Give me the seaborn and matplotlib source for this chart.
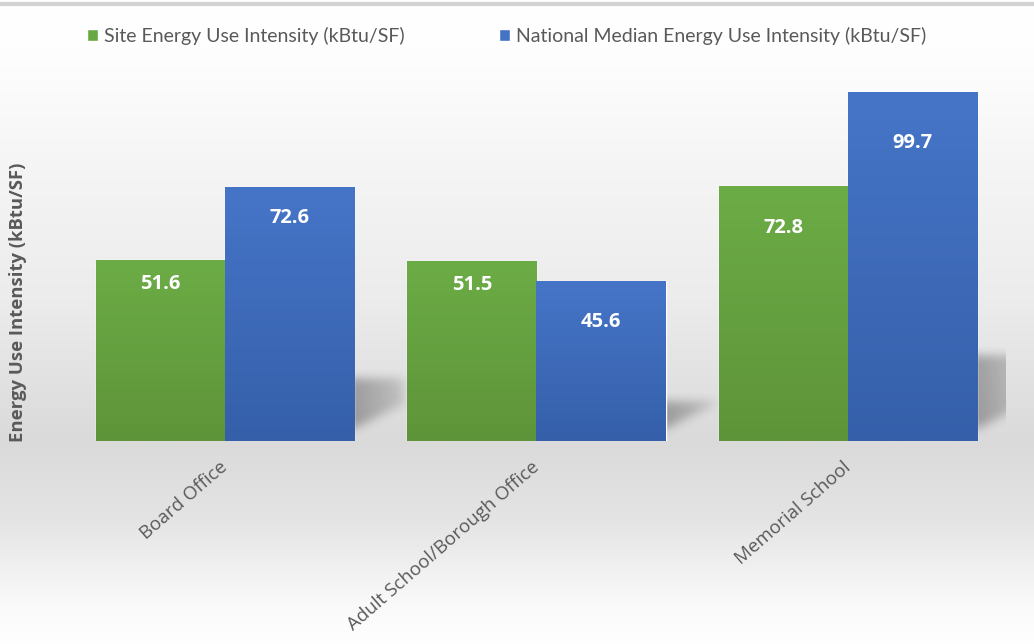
import numpy as np
import pandas as pd
import matplotlib
matplotlib.use("Agg")
import matplotlib.pyplot as plt
import seaborn as sns
from matplotlib.patches import Patch
from matplotlib.colors import to_rgb

# ---- data ----
categories = ["Board Office", "Adult School/Borough Office", "Memorial School"]
series_names = ["Site Energy Use Intensity (kBtu/SF)",
                "National Median Energy Use Intensity (kBtu/SF)"]
site_eui = [51.6, 51.5, 72.8]
national_eui = [72.6, 45.6, 99.7]
y_label = "Energy Use Intensity (kBtu/SF)"

# label distance below bar tops (pixels), styling only: site bars then national bars
label_offsets_px = [24, 24, 42, 31, 41, 51]

df = pd.DataFrame({
    "Building": categories * 2,
    "EUI": site_eui + national_eui,
    "Series": [series_names[0]] * 3 + [series_names[1]] * 3,
})

GREEN = "#68a843"
BLUE = "#4472c4"
GRAD = {"g": ("#6cac46", "#5e9439"), "b": ("#4675c8", "#355fa9")}
TEXT_GRAY = "#595959"

sns.set_theme(style="white")
plt.rcParams['font.family'] = ['Open Sans', 'DejaVu Sans']

W, H = 1034, 644
fig = plt.figure(figsize=(W / 100, H / 100), dpi=100)

# ---- background gradient ----
bg = fig.add_axes([0, 0, 1, 1], zorder=-10)
ys = np.arange(H)
stops_y = [0, 60, 150, 300, 440, 520, 600, 644]
stops_v = [1.0, 0.995, 0.965, 0.925, 0.855, 0.895, 0.975, 1.0]
g = np.interp(ys, stops_y, stops_v)
bg.imshow(np.repeat(g[:, None, None], 3, axis=2), aspect='auto',
          extent=[0, 1, 0, 1], origin='upper', interpolation='bilinear')
bg.axhline(1 - 4 / H, color="#d2d2d2", lw=3)
bg.set_xlim(0, 1)
bg.set_ylim(0, 1)
bg.axis('off')

# ---- main axes ----
px_x = 311.5
px_y = 3.5
left_px, right_px, top_px, base_px = 40, 1006, 70, 441
ax = fig.add_axes([left_px / W, (H - base_px) / H,
                   (right_px - left_px) / W, (base_px - top_px) / H])
ax.patch.set_alpha(0)

sns.barplot(data=df, x="Building", y="EUI", hue="Series",
            palette=[GREEN, BLUE], width=0.83, saturation=1,
            legend=False, ax=ax)

xlim = (-(225 - left_px) / px_x, 2 + (right_px - 848) / px_x)
ylim = (0, (base_px - top_px) / px_y)

bars = list(ax.patches)


def box_blur(a, r, axis):
    k = np.ones(2 * r + 1) / (2 * r + 1)
    return np.apply_along_axis(lambda v: np.convolve(v, k, mode='same'), axis, a)


def soft_shadow(x_right, h):
    hs = 0.245 * h * px_y      # shadow top above baseline (px)
    wd = 50                    # shadow reach to the right (px)
    pad = 16
    nx = int(wd + 2 * pad)
    ny = int(hs + 2 * pad)
    d = (np.arange(nx) - pad)[None, :] + 0.5
    yv = (ny - pad - np.arange(ny))[:, None] - 0.5   # height above baseline
    mask = ((d >= -pad) & (d <= wd) & (yv <= hs) &
            (yv >= 12 + 0.5 * np.clip(d, 0, None))).astype(float)
    fade = np.clip(1.0 - 0.55 * np.clip(d, 0, None) / wd, 0, 1)
    mask = mask * fade
    for _ in range(3):
        mask = box_blur(mask, 4, 0)
        mask = box_blur(mask, 5, 1)
    img = np.zeros((ny, nx, 4))
    img[..., 3] = 0.30 * mask
    ax.imshow(img, extent=[x_right - pad / px_x, x_right + (wd + pad) / px_x,
                           -pad / px_y, (hs + pad) / px_y],
              aspect='auto', origin='upper', zorder=0.5,
              interpolation='bilinear')


n_cat = len(categories)
for i, p in enumerate(bars):
    if i >= n_cat:
        soft_shadow(p.get_x() + p.get_width(), p.get_height())

for i, p in enumerate(bars):
    x0, y0, w, h = p.get_x(), p.get_y(), p.get_width(), p.get_height()
    top, bot = GRAD["g" if i < n_cat else "b"]
    grad = np.linspace(to_rgb(top), to_rgb(bot), 128)[:, None, :]
    p.set_zorder(1)
    im = ax.imshow(grad, extent=[x0, x0 + w, y0, y0 + h], aspect='auto',
                   origin='upper', zorder=1.1, interpolation='bilinear')
    im.set_clip_path(p)
    ax.annotate(f"{h:.1f}", (x0 + w / 2, h),
                xytext=(0, -label_offsets_px[i] * 0.72),
                textcoords='offset points', ha='center', va='center',
                color='white', fontweight='bold', fontsize=14.5, zorder=3)

ax.set_xlim(*xlim)
ax.set_ylim(*ylim)
ax.set_yticks([])
ax.set_xlabel("")
ax.set_ylabel("")
ax.set_xticks(range(n_cat))
ax.set_xticklabels(categories, rotation=41, ha='right', va='center',
                   rotation_mode='anchor', color=TEXT_GRAY, fontsize=13.5)
ax.tick_params(axis='x', length=0, pad=17)
for s in ax.spines.values():
    s.set_visible(False)

fig.text(18 / W, 1 - 302 / H, y_label, rotation=90, ha='center', va='center',
         fontweight='bold', color=TEXT_GRAY, fontsize=13.3)

handles = [Patch(facecolor=GREEN, label=series_names[0]),
           Patch(facecolor=BLUE, label=series_names[1])]
fig.legend(handles=handles, loc='center', bbox_to_anchor=(0.49, 1 - 36 / H),
           ncol=2, frameon=False, handlelength=0.55, handleheight=0.55,
           handletextpad=0.3, columnspacing=4.9,
           labelcolor=TEXT_GRAY, prop={'family': ['Lato', 'DejaVu Sans'],
                                       'size': 14})

fig.savefig("out.png", dpi=100)
